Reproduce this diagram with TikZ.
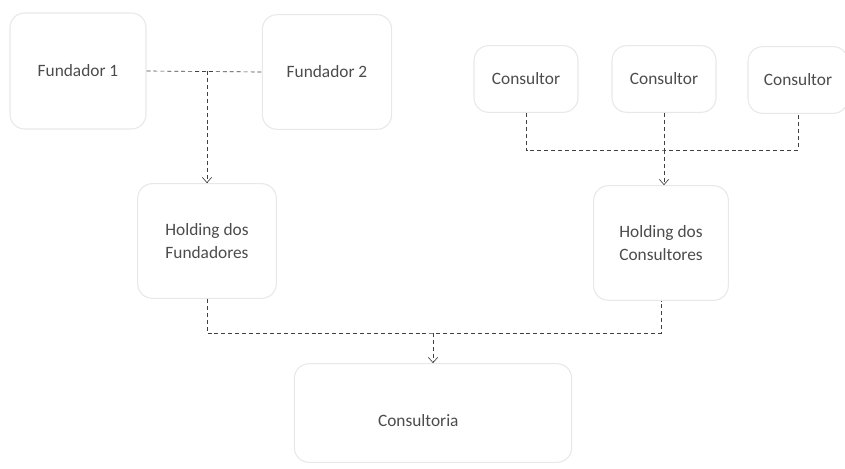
\documentclass[tikz,border=0pt]{standalone}
\usepackage{fontspec}
\setmainfont{Carlito}
\usetikzlibrary{arrows.meta}
\tikzset{
	box/.style={draw=gray!18, line width=0.8pt, rounded corners=11pt, fill=white, align=center, text=black!70, font=\fontsize{13}{17}\selectfont, inner sep=2pt},
	link/.style={draw=black!75, line width=0.5pt, dash pattern=on 3pt off 2.2pt},
	>={Straight Barb[length=4pt,width=7pt]}
}
\begin{document}
\begin{tikzpicture}[x=0.75pt,y=-0.75pt]
		\useasboundingbox (0,0) rectangle (845,468);
		\node[box, minimum width=102pt, minimum height=87pt] (f1) at (78,71) {Fundador 1};
		\node[box, minimum width=97pt, minimum height=86pt] (f2) at (327,72) {Fundador 2};
		\node[box, minimum width=78pt, minimum height=50pt] (c1) at (526,79) {Consultor};
		\node[box, minimum width=78pt, minimum height=50pt] (c2) at (664,79) {Consultor};
		\node[box, minimum width=75pt, minimum height=50pt] (c3) at (798,80) {Consultor};
		\node[box, minimum width=104pt, minimum height=86pt] (hf) at (207,241) {Holding dos\\Fundadores};
		\node[box, minimum width=101pt, minimum height=86pt] (hc) at (661,243) {Holding dos\\Consultores};
		\node[box, minimum width=208pt, minimum height=74pt] (co) at (433,413) {\raisebox{-10pt}[0pt][0pt]{Consultoria}\hspace{22pt}};
		\coordinate (top) at (664,150);
		\coordinate (fork) at (433,333);
		\draw[link] (f1.east) -- (f2.west);
		\draw[link,->] (hf.north |- f1.east) -- (hf.north);
		\draw[link] (c1.south) |- (top) -| (c3.south);
		\draw[link] (c2.south) -- (top);
		\draw[link,->] (top) -- (top |- hc.north);
		\draw[link] (hf.south) |- (fork) -| (hc.south);
		\draw[link,->] (fork) -- (co.north);
	\end{tikzpicture}
\end{document}
